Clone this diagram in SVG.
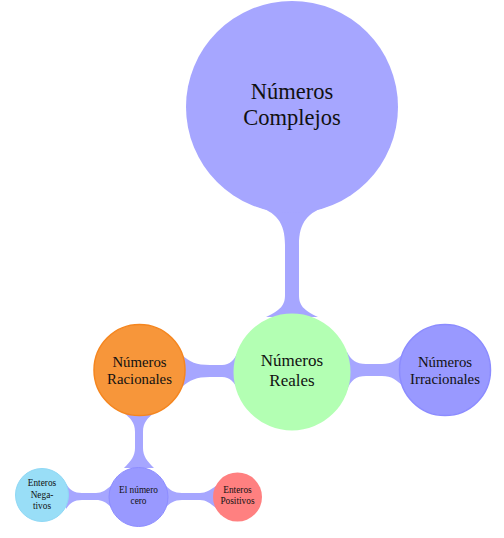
<svg xmlns="http://www.w3.org/2000/svg" width="504" height="538" viewBox="0 0 504 538">
<style>
.c{fill:#a6a6ff}
text{font-family:"Liberation Serif","DejaVu Serif",serif;fill:#111;text-anchor:middle}
.t1{font-size:22.5px}
.t2{font-size:17px}
.t3{font-size:14.8px}
.t4{font-size:9.3px}
</style>
<g id="connectors">
<path class="c" d="M256 206 C276 212 285 222 285 245 L285 295 C285 305 281 310 266 317 L318 317 C303 310 299 305 299 295 L299 245 C299 222 308 212 328 206 Z"/>
<path class="c" d="M182 355 C190 362 196 365 210 365 L222 365 C230 365 234 360 238 352 L238 390 C234 382 230 377 222 377 L210 377 C196 377 190 380 182 387 Z"/>
<path class="c" d="M347 352 C351 360 356 364 366 364 L382 364 C392 364 396 360 403 354 L403 386 C396 380 392 376 382 376 L366 376 C356 376 351 380 347 390 Z"/>
<path class="c" d="M124 413 C130 418 135 422 135 432 L135 448 C135 456 131 461 124 468 L154 468 C147 461 143 456 143 448 L143 432 C143 422 148 418 154 413 Z"/>
<path class="c" d="M66 484 C70 490 74 493 82 493 L96 493 C102 493 106 490 112 485 L112 508 C106 502 102 500 96 500 L82 500 C74 500 70 503 66 509 Z"/>
<path class="c" d="M165 485 C170 490 174 493 182 493 L200 493 C206 493 210 490 216 486 L216 508 C210 503 206 500 200 500 L182 500 C174 500 170 503 165 508 Z"/>
</g>
<g id="complejos">
<circle cx="292" cy="107" r="106" fill="#a6a6ff"/>
<text class="t1" x="292" y="99">Números</text>
<text class="t1" x="292" y="125">Complejos</text>
</g>
<g id="reales">
<circle cx="292" cy="372" r="58.5" fill="#b3ffb3"/>
<text class="t2" x="292" y="366">Números</text>
<text class="t2" x="292" y="386">Reales</text>
</g>
<g id="racionales">
<circle cx="139.5" cy="370" r="45.5" fill="#f7963a" stroke="#f5861f" stroke-width="1.5"/>
<text class="t3" x="139.5" y="367">Números</text>
<text class="t3" x="139.5" y="384">Racionales</text>
</g>
<g id="irracionales">
<circle cx="445" cy="370" r="45.5" fill="#9999ff" stroke="#8c8cff" stroke-width="1.5"/>
<text class="t3" x="445" y="367">Números</text>
<text class="t3" x="445" y="384">Irracionales</text>
</g>
<g id="cero">
<circle cx="138.5" cy="497" r="29.5" fill="#9999ff" stroke="#8c8cff" stroke-width="1"/>
<text class="t4" x="138.5" y="493">El número</text>
<text class="t4" x="138.5" y="504">cero</text>
</g>
<g id="negativos">
<circle cx="42" cy="495" r="26.5" fill="#99def7" stroke="#8fd8f5" stroke-width="1"/>
<text class="t4" x="42" y="486">Enteros</text>
<text class="t4" x="42" y="497.5">Nega-</text>
<text class="t4" x="42" y="509">tivos</text>
</g>
<g id="positivos">
<circle cx="237.5" cy="497" r="24.5" fill="#ff8080"/>
<text class="t4" x="237.5" y="493">Enteros</text>
<text class="t4" x="237.5" y="504">Positivos</text>
</g>
</svg>
